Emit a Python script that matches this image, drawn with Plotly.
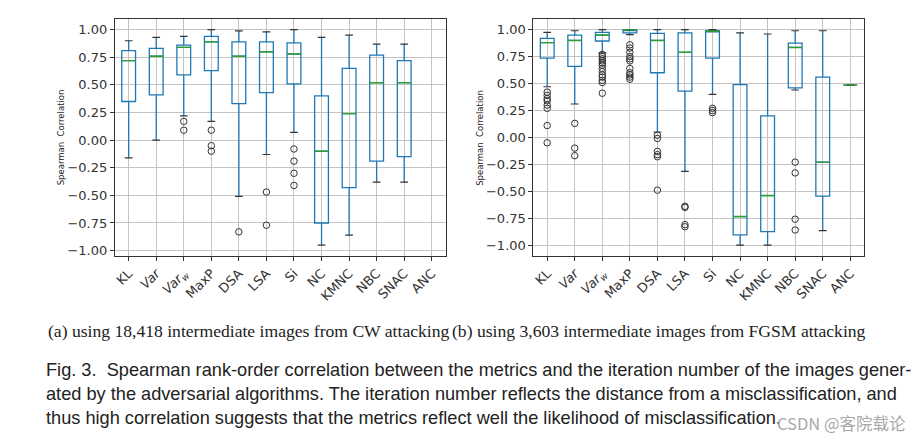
import plotly.graph_objects as go

# ---------------- data ----------------
categories = ["KL", "Var", "Varw", "MaxP", "DSA", "LSA", "Si", "NC", "KMNC", "NBC", "SNAC", "ANC"]
tick_labels = ["KL", "<i>Var</i>", "<i>Var</i><sub><i>w</i></sub>", "MaxP", "DSA", "LSA", "Si",
               "NC", "KMNC", "NBC", "SNAC", "ANC"]
y_ticks = [-1.0, -0.75, -0.5, -0.25, 0.0, 0.25, 0.5, 0.75, 1.0]

# (a) CW attacking  (ANC has no data)
cw_upper = [0.90, 0.93, 0.94, 1.00, 0.99, 0.98, 1.00, 0.93, 0.95, 0.87, 0.87, None]
cw_q3 = [0.81, 0.83, 0.86, 0.94, 0.89, 0.89, 0.88, 0.40, 0.65, 0.77, 0.72, None]
cw_median = [0.72, 0.76, 0.84, 0.89, 0.76, 0.80, 0.78, -0.10, 0.24, 0.52, 0.52, None]
cw_q1 = [0.35, 0.41, 0.59, 0.63, 0.33, 0.43, 0.51, -0.75, -0.43, -0.19, -0.15, None]
cw_lower = [-0.16, 0.00, 0.22, 0.17, -0.51, -0.13, 0.07, -0.95, -0.86, -0.38, -0.38, None]
cw_outlier_metric = ["Varw", "Varw", "MaxP", "MaxP", "MaxP", "DSA", "LSA", "LSA",
                     "Si", "Si", "Si", "Si"]
cw_outlier_value = [0.17, 0.09, 0.09, -0.05, -0.10, -0.83, -0.47, -0.77,
                    -0.08, -0.19, -0.30, -0.41]

# (b) FGSM attacking
fg_upper = [0.975, 0.99, 1.00, 1.00, 1.00, 1.00, 1.00, 0.97, 0.96, 0.99, 0.99, 0.485]
fg_q3 = [0.92, 0.95, 0.975, 1.00, 0.965, 0.97, 0.99, 0.49, 0.20, 0.875, 0.56, 0.485]
fg_median = [0.88, 0.90, 0.95, 0.998, 0.90, 0.79, 0.985, -0.735, -0.54, 0.835, -0.23, 0.485]
fg_q1 = [0.735, 0.66, 0.895, 0.97, 0.60, 0.43, 0.735, -0.905, -0.875, 0.46, -0.545, 0.485]
fg_lower = [0.47, 0.31, 0.785, 0.955, 0.05, -0.315, 0.40, -1.00, -1.00, 0.44, -0.865, 0.485]
fg_outlier_metric = (["KL"] * 8 + ["Var"] * 3 + ["Varw"] * 13 + ["MaxP"] * 11 +
                     ["DSA"] * 6 + ["LSA"] * 4 + ["Si"] * 3 + ["NBC"] * 4)
fg_outlier_value = [0.42, 0.39, 0.36, 0.34, 0.30, 0.27, 0.11, -0.05,
                    0.13, -0.10, -0.17,
                    0.77, 0.75, 0.73, 0.71, 0.69, 0.67, 0.64, 0.61, 0.58, 0.56, 0.53, 0.51, 0.41,
                    0.86, 0.83, 0.79, 0.75, 0.73, 0.71, 0.64, 0.60, 0.58, 0.56, 0.54,
                    0.02, -0.01, -0.13, -0.16, -0.18, -0.49,
                    -0.64, -0.65, -0.81, -0.83,
                    0.27, 0.25, 0.23,
                    -0.23, -0.33, -0.76, -0.86]

# ---------------- styling ----------------
BLUE = "#1f77b4"
GREEN = "#2ca02c"
DARK = "#333333"
GRID = "#c4c4c4"
BOX_W = 0.5
CAP_HALF = 0.14

fig = go.Figure()


def add_panel(xa, ya, upper, q3, med, q1, lower, out_metric, out_value):
    pos = [i + 1 for i, v in enumerate(med) if v is not None]
    sel = [i for i, v in enumerate(med) if v is not None]
    fig.add_trace(go.Box(
        x=pos,
        q1=[q1[i] for i in sel], median=[med[i] for i in sel], q3=[q3[i] for i in sel],
        lowerfence=[lower[i] for i in sel], upperfence=[upper[i] for i in sel],
        width=BOX_W, whiskerwidth=0, boxpoints=False,
        line=dict(color=BLUE, width=1.3), fillcolor="rgba(0,0,0,0)",
        xaxis=xa, yaxis=ya, showlegend=False, hoverinfo="skip"))
    # caps
    cx, cy = [], []
    for i in sel:
        for v in (lower[i], upper[i]):
            cx += [i + 1 - CAP_HALF, i + 1 + CAP_HALF, None]
            cy += [v, v, None]
    fig.add_trace(go.Scatter(x=cx, y=cy, mode="lines", line=dict(color=DARK, width=1.2),
                             xaxis=xa, yaxis=ya, showlegend=False, hoverinfo="skip"))
    # medians
    mx, my = [], []
    for i in sel:
        mx += [i + 1 - BOX_W / 2, i + 1 + BOX_W / 2, None]
        my += [med[i], med[i], None]
    fig.add_trace(go.Scatter(x=mx, y=my, mode="lines", line=dict(color=GREEN, width=1.4),
                             xaxis=xa, yaxis=ya, showlegend=False, hoverinfo="skip"))
    # outliers
    ox = [categories.index(m) + 1 for m in out_metric]
    fig.add_trace(go.Scatter(x=ox, y=out_value, mode="markers",
                             marker=dict(symbol="circle-open", size=6.5, color=DARK,
                                         line=dict(width=1)),
                             xaxis=xa, yaxis=ya, showlegend=False, hoverinfo="skip"))


add_panel("x", "y", cw_upper, cw_q3, cw_median, cw_q1, cw_lower, cw_outlier_metric, cw_outlier_value)
add_panel("x2", "y2", fg_upper, fg_q3, fg_median, fg_q1, fg_lower, fg_outlier_metric, fg_outlier_value)

W, H = 923, 445
tick_font = dict(family="DejaVu Sans", size=13, color=DARK)

xcommon = dict(range=[0.5, 12.5], tickmode="array", tickvals=list(range(1, 13)),
               ticktext=tick_labels, tickangle=-45, showgrid=True, gridcolor=GRID, gridwidth=1,
               showline=True, mirror=True, linecolor=DARK, linewidth=1,
               ticks="outside", ticklen=4, tickcolor=DARK, tickfont=tick_font, zeroline=False)
ycommon = dict(tickmode="array", tickvals=y_ticks, tickformat=".2f",
               showgrid=True, gridcolor=GRID, gridwidth=1,
               showline=True, mirror=True, linecolor=DARK, linewidth=1,
               ticks="outside", ticklen=4, tickcolor=DARK, tickfont=tick_font, zeroline=False)

ydom = [(H - 257) / H, (H - 19) / H]
fig.update_layout(
    width=W, height=H, margin=dict(l=0, r=0, t=0, b=0),
    paper_bgcolor="white", plot_bgcolor="white",
    xaxis=dict(domain=[114 / W, 445 / W], anchor="y", **xcommon),
    yaxis=dict(domain=ydom, anchor="x", range=[-1.0475, 1.0975], **ycommon),
    xaxis2=dict(domain=[533 / W, 864 / W], anchor="y2", **xcommon),
    yaxis2=dict(domain=ydom, anchor="x2", range=[-1.1, 1.1], **ycommon),
)

ann = []
for xp in (60, 480):
    ann.append(dict(text="Spearman  Correlation", x=xp / W, y=(H - 138) / H, xref="paper", yref="paper",
                    xanchor="center", yanchor="middle",
                    textangle=-90, showarrow=False, font=dict(family="DejaVu Sans", size=8.5, color="#222")))

serif = dict(family="Liberation Serif", size=17.6, color="#222")
ann.append(dict(text="(a) using 18,418 intermediate images from CW attacking", x=45 / W, y=(H - 332) / H,
                xref="paper", yref="paper", xanchor="left", yanchor="middle", showarrow=False, font=serif))
ann.append(dict(text="(b) using 3,603 intermediate images from FGSM attacking", x=449 / W, y=(H - 332) / H,
                xref="paper", yref="paper", xanchor="left", yanchor="middle", showarrow=False, font=serif))

sans = dict(family="Liberation Sans", size=18.2, color="#222")
lines = [
    "Fig. 3.  Spearman rank-order correlation between the metrics and the iteration number of the images gener-",
    "ated by the adversarial algorithms. The iteration number reflects the distance from a misclassification, and",
    "thus high correlation suggests that the metrics reflect well the likelihood of misclassification.",
]
for k, t in enumerate(lines):
    ann.append(dict(text=t, x=43 / W, y=(H - (372 + 24 * k)) / H, xref="paper", yref="paper",
                    xanchor="left", yanchor="middle", showarrow=False, font=sans))
ann.append(dict(text="CSDN @客院载论", x=908 / W, y=(H - 425) / H, xref="paper", yref="paper",
                xanchor="right", yanchor="middle", showarrow=False,
                font=dict(family="Noto Sans CJK SC", size=16.5, color="#a8a8a8")))
fig.update_layout(annotations=ann)

fig.write_html("out.html", config={"displayModeBar": False},
               post_script="document.body.style.margin='0px';")
